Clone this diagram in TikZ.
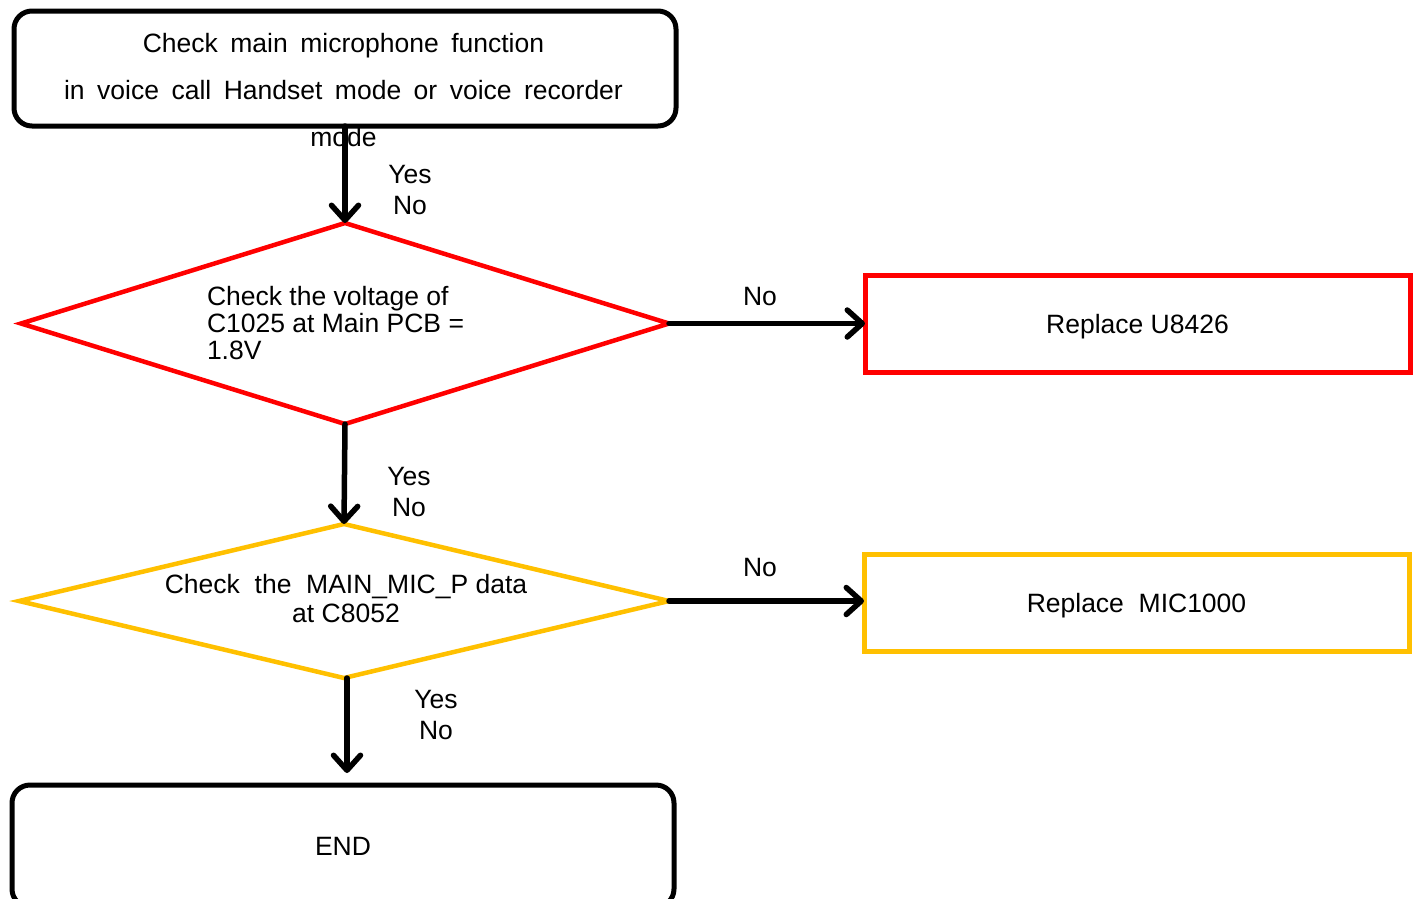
\documentclass[tikz,border=0pt]{standalone}
\usepackage{fontspec}
\setmainfont{Liberation Sans}
\usetikzlibrary{arrows.meta,shapes.geometric}
\definecolor{myred}{RGB}{255,0,0}
\definecolor{myyellow}{RGB}{255,192,0}
\newcommand{\widewordsp}{\spaceskip 12.5pt\relax}
\begin{document}
\begin{tikzpicture}[x=1pt,y=-1pt,
  every node/.style={inner sep=0pt, outer sep=0pt, font=\fontsize{26.5}{27}\selectfont},
  termbox/.style={draw=black, line width=5pt, rounded corners=18pt, minimum width=662pt},
  redbox/.style={draw=myred, line width=5pt, minimum width=545pt, minimum height=97pt, text depth=0pt},
  yelbox/.style={draw=myyellow, line width=5pt, minimum width=545pt, minimum height=97pt, text depth=0pt},
  reddia/.style={diamond, draw=myred, line width=4.5pt},
  yeldia/.style={diamond, draw=myyellow, line width=4.5pt},
  flow/.style={draw=black, line width=5.5pt, line cap=round,
    -{Straight Barb[length=15pt,width=27pt,line cap=round,line join=round]}},
  yesno/.style={align=center, font=\fontsize{26.5}{31}\selectfont},
  lbl/.style={font=\fontsize{26.5}{27}\selectfont}
]
\useasboundingbox (0,0) rectangle (1415,898);

% nodes
\node[termbox, minimum height=115pt] (top) at (345,68.5) {};
\node[align=center, font=\fontsize{26.5}{47}\selectfont\widewordsp] (ttop) at (343.5,90)
  {Check main microphone function\\in voice call Handset mode or voice recorder\\mode};

\node[reddia, minimum width=648pt, minimum height=201pt] (d1) at (345,323.5) {};
\node[anchor=west, align=left, font=\fontsize{26.5}{27}\selectfont] (td1) at (207,323)
  {Check the voltage of\\C1025 at Main PCB =\\1.8V};

\node[redbox] (r1) at (1137.5,323.5) {Replace U8426};

\node[yeldia, minimum width=650pt, minimum height=154pt] (d2) at (344,601) {};
\node[align=center, font=\fontsize{26.5}{29}\selectfont] (td2) at (346,598.5)
  {Check\ \ the\ \ MAIN\_MIC\_P data\\at C8052};

\node[yelbox] (r2) at (1136.5,602.5) {Replace\ \ MIC1000};

\node[termbox, minimum height=122pt] (endbox) at (343,846) {END};

\coordinate (e1) at (347,773);

% labels
\node[yesno] (yn1) at (410,190.5) {Yes\\No};
\node[yesno] (yn2) at (409,492) {Yes\\No};
\node[yesno] (yn3) at (436,714.5) {Yes\\No};
\node[lbl] (no1) at (760,297) {No};
\node[lbl] (no2) at (760,567) {No};

% connectors
\draw[flow] (top.south -| d1.north) -- (d1.north);
\draw[flow] (d1.east) -- (r1.west);
\draw[flow] (d1.south) -- (d2.north);
\draw[flow] (d2.east) -- (d2.east -| r2.west);
\draw[flow] (d2.south -| e1) -- (e1);
\end{tikzpicture}
\end{document}
